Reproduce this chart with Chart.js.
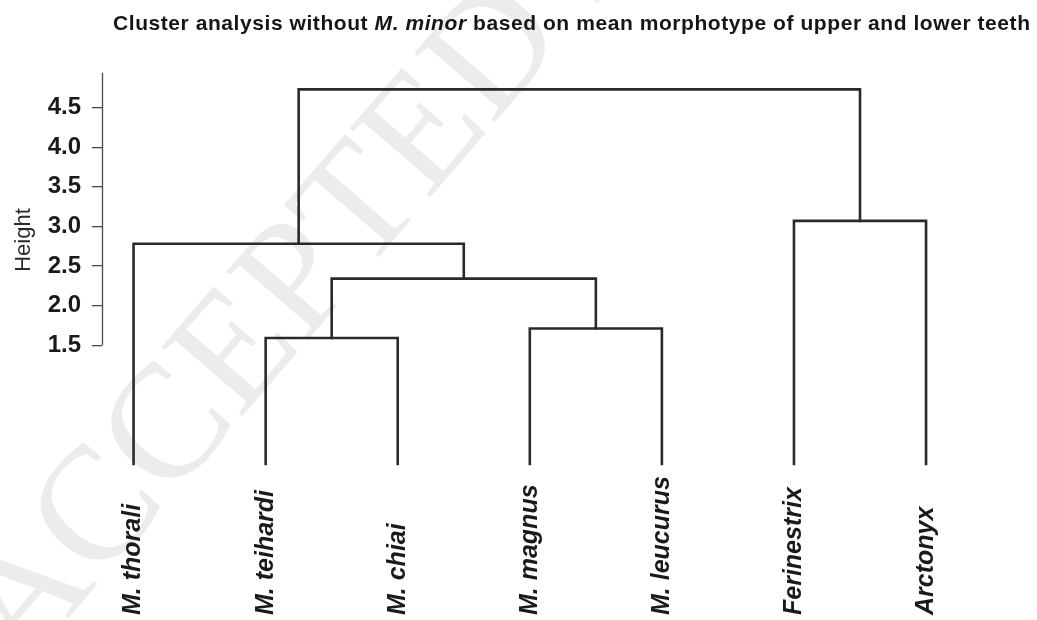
<!DOCTYPE html>
<html>
<head>
<meta charset="utf-8">
<title>Cluster analysis dendrogram</title>
<script src="https://cdn.jsdelivr.net/npm/chart.js@4.4.1/dist/chart.umd.min.js"></script>
<style>
  html, body { margin: 0; padding: 0; background: #ffffff; }
  #wrap { width: 1037px; height: 620px; position: relative; }
</style>
</head>
<body>
<div id="wrap"><canvas id="chart" width="1037" height="620"></canvas></div>
<script>
// ---- data -----------------------------------------------------------
const leafLabels = ["M. thorali", "M. teihardi", "M. chiai", "M. magnus", "M. leucurus", "Ferinestrix", "Arctonyx"];
const leafItalic = [true, true, true, true, true, true, true];
// hclust-style merge table: negative = leaf number (1-based, in plotted order), positive = earlier merge
const mergeLeft   = [-2, -4, 1, -1, -6, 4];
const mergeRight  = [-3, -5, 2,  3, -7, 5];
const mergeHeight = [1.59, 1.71, 2.34, 2.78, 3.07, 4.73];
const yTicks      = [1.5, 2.0, 2.5, 3.0, 3.5, 4.0, 4.5];
const yTickLabels = ["1.5", "2.0", "2.5", "3.0", "3.5", "4.0", "4.5"];
const yAxisTop    = 4.94;
const leafHeight  = 0;

const titleParts = [
  { text: "Cluster analysis without ", italic: false },
  { text: "M. minor", italic: true },
  { text: " based on mean morphotype of upper and lower teeth", italic: false }
];
const yTitle = "Height";
const watermark = "ACCEPTED MANUSCRIPT";

// ---- build the dendrogram segments ----------------------------------
const nodeX = [], nodeY = [];
function childPos(ref) {
  if (ref < 0) return { x: -ref, y: leafHeight };
  return { x: nodeX[ref - 1], y: nodeY[ref - 1] };
}
const datasets = [];
for (let i = 0; i < mergeHeight.length; i++) {
  const l = childPos(mergeLeft[i]);
  const r = childPos(mergeRight[i]);
  const h = mergeHeight[i];
  nodeX.push((l.x + r.x) / 2);
  nodeY.push(h);
  datasets.push({
    data: [{ x: l.x, y: l.y }, { x: l.x, y: h }, { x: r.x, y: h }, { x: r.x, y: r.y }],
    showLine: true,
    borderColor: "#2a2a2a",
    borderWidth: 2.6,
    pointRadius: 0,
    pointHoverRadius: 0,
    tension: 0,
    fill: false,
    clip: false,
    borderCapStyle: "square",
    borderJoinStyle: "miter"
  });
}

const SANS = '"Liberation Sans", Arial, Helvetica, sans-serif';

// ---- decorations drawn around the plot -------------------------------
const decor = {
  id: "decor",
  beforeDraw(chart) {
    const ctx = chart.ctx;
    ctx.save();
    ctx.fillStyle = "#ffffff";
    ctx.fillRect(0, 0, chart.width, chart.height);
    // faint diagonal stamp behind everything
    ctx.translate(22, 672);
    ctx.rotate(-49.3 * Math.PI / 180);
    ctx.font = '162px "Liberation Serif", "Times New Roman", serif';
    ctx.fillStyle = "#ececec";
    ctx.textBaseline = "alphabetic";
    ctx.fillText(watermark, 0, 0);
    ctx.restore();
  },
  afterDraw(chart) {
    const ctx = chart.ctx;
    const xs = chart.scales.x, ys = chart.scales.y;
    const area = chart.chartArea;

    // y axis line
    ctx.save();
    ctx.strokeStyle = "#4a4a4a";
    ctx.lineWidth = 1.3;
    ctx.beginPath();
    ctx.moveTo(Math.round(area.left) + 0.5, ys.getPixelForValue(yTicks[0]));
    ctx.lineTo(Math.round(area.left) + 0.5, ys.getPixelForValue(yAxisTop));
    ctx.stroke();
    ctx.restore();

    // title with an italic species name
    ctx.save();
    ctx.fillStyle = "#161616";
    ctx.textBaseline = "alphabetic";
    const size = 21;
    const fontFor = p => p.italic ? `italic bold ${size}px ${SANS}` : `bold ${size}px ${SANS}`;
    let natural = 0, chars = 0;
    titleParts.forEach(p => { ctx.font = fontFor(p); natural += ctx.measureText(p.text).width; chars += p.text.length; });
    const targetW = 917;
    const spacing = (targetW - natural) / (chars - 1);
    let x = 113;
    titleParts.forEach(p => {
      ctx.font = fontFor(p);
      for (const ch of p.text) {
        ctx.fillText(ch, x, 30);
        x += ctx.measureText(ch).width + spacing;
      }
    });
    ctx.restore();

    // axis title
    ctx.save();
    ctx.translate(24, 240);
    ctx.rotate(-Math.PI / 2);
    ctx.font = `22px ${SANS}`;
    ctx.fillStyle = "#2a2a2a";
    ctx.textAlign = "center";
    ctx.textBaseline = "middle";
    ctx.fillText(yTitle, 0, 0);
    ctx.restore();

    // leaf labels, reading upward from a common start line
    leafLabels.forEach((lab, i) => {
      const px = xs.getPixelForValue(i + 1);
      ctx.save();
      ctx.translate(px, 615);
      ctx.rotate(-Math.PI / 2);
      ctx.font = `${leafItalic[i] ? "italic " : ""}bold 25px ${SANS}`;
      ctx.fillStyle = "#1a1a1a";
      ctx.textAlign = "left";
      ctx.textBaseline = "middle";
      ctx.fillText(lab, 0, 0);
      ctx.restore();
    });
  }
};

new Chart(document.getElementById("chart"), {
  type: "scatter",
  data: { datasets },
  options: {
    responsive: false,
    animation: false,
    events: [],
    layout: { padding: { top: 68, bottom: 156, left: 0, right: 7 } },
    plugins: { legend: { display: false }, tooltip: { enabled: false }, title: { display: false } },
    scales: {
      x: {
        type: "linear",
        min: 0.761,
        max: 7.787,
        display: false
      },
      y: {
        type: "linear",
        min: 0,
        max: 5,
        afterFit(scale) { scale.width = 102; },
        afterBuildTicks(scale) { scale.ticks = yTicks.map(v => ({ value: v })); },
        ticks: {
          padding: 11,
          color: "#1a1a1a",
          font: { family: SANS, size: 24, weight: "bold" },
          callback: (v, i) => yTickLabels[i]
        },
        grid: {
          drawOnChartArea: false,
          drawTicks: true,
          tickLength: 10,
          color: "#4a4a4a",
          lineWidth: 1.3
        },
        border: { display: false }
      }
    }
  },
  plugins: [decor]
});
</script>
</body>
</html>
